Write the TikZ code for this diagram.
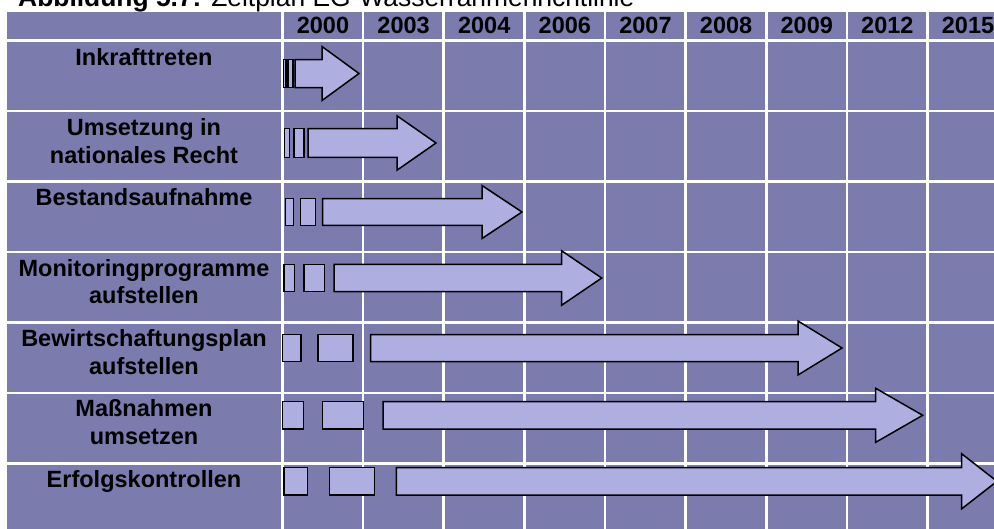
\documentclass[tikz,border=0pt]{standalone}
\usepackage{fontspec}
\setmainfont{Liberation Sans}
\definecolor{cellbg}{RGB}{123,123,173}
\definecolor{barfill}{RGB}{174,174,224}

\begin{document}
\begin{tikzpicture}[x=1pt, y=-1pt,
	every node/.style={inner sep=0pt, font=\fontsize{23.5}{27.7}\selectfont\bfseries},
	gridline/.style={white, line width=2.6pt},
	bar/.style={draw=black, fill=barfill, line width=1.5pt, line join=miter}]
	\useasboundingbox (0,0) rectangle (994,528);
	\fill[cellbg] (7,12) rectangle (1000,540);
	\foreach \k in {0,...,8}
		\draw[gridline] (282.5+80.625*\k,12) -- (282.5+80.625*\k,540);
	\foreach \k in {0,...,6}
		\draw[gridline] (7,40.5+70.5*\k) -- (1000,40.5+70.5*\k);
	% title
	\node[anchor=base west, font=\fontsize{26.4}{30}\selectfont] (title) at (18,6) {\textbf{Abbildung 5.7:} Zeitplan EG-Wasserrahmenrichtlinie};
	% years
	\foreach \yr [count=\i from 0] in {2000,2003,2004,2006,2007,2008,2009,2012,2015}
		\node[anchor=base] (yr\yr) at (323+80.625*\i,33) {\yr};
	% steps
	\foreach \txt [count=\i from 0] in {Inkrafttreten, {Umsetzung in\\nationales Recht}, Bestandsaufnahme,
		{Monitoringprogramme\\aufstellen}, {Bewirtschaftungsplan\\aufstellen}, {Maßnahmen\\umsetzen}, Erfolgskontrollen}
		\node[anchor=north, align=center] (step\i) at (144,48+70.3*\i) {\txt};
	% striped arrows
	\foreach \yc/\bh/\hh/\ra/\rb/\rc/\rd/\bl/\hb/\tip in {
		73.5/14/27/283.5/285.8/288/293/295/322/359,
		143/14.3/27.2/284.7/289.3/294/304/308/397/436,
		212/13.3/26.5/285.7/293.3/300.7/315.7/322.7/482/522,
		278/13.7/27.2/284/294.7/304/324.3/334/561.7/601.7,
		348/13.5/27/282.7/301/318/353/370.7/798/842,
		415.3/13.7/27/282.7/303.3/322.7/363.3/383/875.7/922.7,
		481.3/13.7/27.5/284/307.3/329.3/374.3/396.3/961.7/997}
	{
		\draw[bar] (\ra,\yc-\bh) rectangle (\rb,\yc+\bh);
		\draw[bar] (\rc,\yc-\bh) rectangle (\rd,\yc+\bh);
		\draw[bar] (\bl,\yc-\bh) -- (\hb,\yc-\bh) -- (\hb,\yc-\hh) -- (\tip,\yc) -- (\hb,\yc+\hh) -- (\hb,\yc+\bh) -- (\bl,\yc+\bh) -- cycle;
	}
\end{tikzpicture}
\end{document}
